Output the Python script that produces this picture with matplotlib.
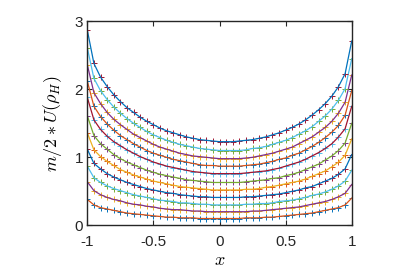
import numpy as np
import matplotlib
matplotlib.use("Agg")
import matplotlib.pyplot as plt

plt.rcParams['font.family'] = ['Liberation Sans', 'DejaVu Sans']
plt.rcParams['mathtext.fontset'] = 'cm'
plt.rcParams['axes.unicode_minus'] = False

# sample points (x) and the 11 curves, bottom to top
x = [-1.00, -0.95, -0.90, -0.85, -0.80, -0.75, -0.70, -0.65, -0.60, -0.55,
     -0.50, -0.45, -0.40, -0.35, -0.30, -0.25, -0.20, -0.15, -0.10, -0.05,
     0.00, 0.05, 0.10, 0.15, 0.20, 0.25, 0.30, 0.35, 0.40, 0.45,
     0.50, 0.55, 0.60, 0.65, 0.70, 0.75, 0.80, 0.85, 0.90, 0.95, 1.00]

u0 = [0.38, 0.30, 0.26, 0.24, 0.22, 0.20, 0.18, 0.17, 0.16, 0.15, 0.14, 0.13, 0.12, 0.12,
      0.11, 0.11, 0.11, 0.10, 0.10, 0.10, 0.10, 0.10, 0.10, 0.10, 0.11, 0.11, 0.11, 0.12,
      0.12, 0.13, 0.14, 0.15, 0.16, 0.17, 0.18, 0.20, 0.22, 0.24, 0.26, 0.30, 0.40]
u1 = [0.64, 0.51, 0.45, 0.41, 0.38, 0.36, 0.33, 0.31, 0.30, 0.28, 0.27, 0.25, 0.24, 0.23,
      0.23, 0.22, 0.21, 0.21, 0.20, 0.20, 0.20, 0.20, 0.20, 0.20, 0.20, 0.21, 0.21, 0.22,
      0.23, 0.24, 0.25, 0.26, 0.27, 0.29, 0.31, 0.33, 0.35, 0.38, 0.42, 0.47, 0.60]
u2 = [0.87, 0.70, 0.63, 0.58, 0.54, 0.51, 0.48, 0.45, 0.43, 0.41, 0.39, 0.37, 0.36, 0.35,
      0.33, 0.33, 0.32, 0.31, 0.31, 0.30, 0.30, 0.30, 0.30, 0.30, 0.31, 0.31, 0.32, 0.32,
      0.33, 0.35, 0.36, 0.37, 0.39, 0.41, 0.44, 0.46, 0.49, 0.53, 0.58, 0.65, 0.81]
u3 = [1.12, 0.91, 0.83, 0.76, 0.71, 0.67, 0.63, 0.60, 0.57, 0.54, 0.52, 0.50, 0.48, 0.47,
      0.45, 0.44, 0.43, 0.42, 0.42, 0.41, 0.41, 0.41, 0.41, 0.41, 0.42, 0.42, 0.43, 0.44,
      0.45, 0.46, 0.48, 0.50, 0.52, 0.55, 0.57, 0.61, 0.65, 0.69, 0.75, 0.83, 1.04]
u4 = [1.36, 1.11, 1.01, 0.94, 0.88, 0.82, 0.78, 0.74, 0.71, 0.68, 0.65, 0.63, 0.61, 0.59,
      0.57, 0.56, 0.55, 0.54, 0.53, 0.52, 0.52, 0.52, 0.52, 0.52, 0.53, 0.53, 0.54, 0.56,
      0.57, 0.59, 0.61, 0.63, 0.65, 0.68, 0.72, 0.76, 0.80, 0.86, 0.93, 1.03, 1.27]
u5 = [1.61, 1.32, 1.20, 1.12, 1.04, 0.98, 0.93, 0.89, 0.85, 0.81, 0.78, 0.75, 0.73, 0.71,
      0.69, 0.67, 0.66, 0.65, 0.64, 0.63, 0.63, 0.63, 0.63, 0.63, 0.64, 0.65, 0.66, 0.67,
      0.69, 0.70, 0.73, 0.75, 0.78, 0.82, 0.86, 0.90, 0.96, 1.02, 1.10, 1.21, 1.50]
u6 = [1.88, 1.55, 1.41, 1.31, 1.23, 1.17, 1.11, 1.06, 1.01, 0.97, 0.93, 0.90, 0.87, 0.85,
      0.83, 0.81, 0.79, 0.78, 0.77, 0.76, 0.76, 0.76, 0.76, 0.76, 0.77, 0.78, 0.79, 0.80,
      0.82, 0.84, 0.87, 0.90, 0.93, 0.97, 1.02, 1.07, 1.13, 1.20, 1.30, 1.42, 1.75]
u7 = [2.12, 1.75, 1.60, 1.49, 1.40, 1.32, 1.26, 1.20, 1.15, 1.10, 1.06, 1.03, 1.00, 0.97,
      0.95, 0.93, 0.91, 0.89, 0.88, 0.88, 0.87, 0.87, 0.87, 0.87, 0.88, 0.89, 0.90, 0.92,
      0.94, 0.97, 0.99, 1.03, 1.06, 1.11, 1.16, 1.22, 1.29, 1.37, 1.47, 1.62, 1.98]
u8 = [2.36, 1.95, 1.79, 1.66, 1.56, 1.48, 1.41, 1.34, 1.29, 1.24, 1.19, 1.15, 1.12, 1.09,
      1.06, 1.04, 1.02, 1.01, 1.00, 0.99, 0.98, 0.98, 0.98, 0.98, 0.99, 1.00, 1.02, 1.04,
      1.06, 1.09, 1.12, 1.15, 1.20, 1.25, 1.30, 1.37, 1.44, 1.53, 1.65, 1.81, 2.21]
u9 = [2.61, 2.16, 1.98, 1.85, 1.74, 1.65, 1.57, 1.50, 1.44, 1.38, 1.33, 1.29, 1.25, 1.22,
      1.19, 1.17, 1.15, 1.13, 1.12, 1.11, 1.10, 1.10, 1.10, 1.10, 1.11, 1.13, 1.14, 1.16,
      1.19, 1.22, 1.25, 1.29, 1.34, 1.39, 1.45, 1.53, 1.61, 1.71, 1.84, 2.01, 2.45]
u10 = [2.87, 2.38, 2.18, 2.04, 1.92, 1.82, 1.73, 1.66, 1.59, 1.53, 1.48, 1.43, 1.39, 1.36,
       1.33, 1.30, 1.28, 1.26, 1.25, 1.24, 1.23, 1.23, 1.23, 1.24, 1.25, 1.26, 1.28, 1.30,
       1.33, 1.36, 1.40, 1.44, 1.49, 1.55, 1.62, 1.70, 1.79, 1.90, 2.04, 2.23, 2.71]

curves = [u0, u1, u2, u3, u4, u5, u6, u7, u8, u9, u10]

xticks = [-1, -0.5, 0, 0.5, 1]
xticklabels = ['-1', '-0.5', '0', '0.5', '1']
yticks = [0, 1, 2, 3]
yticklabels = ['0', '1', '2', '3']

# matlab default colour order; markers and lines are separate plot calls
matlab_colors = [(0.000, 0.447, 0.741), (0.850, 0.325, 0.098), (0.929, 0.694, 0.125),
                 (0.494, 0.184, 0.556), (0.466, 0.674, 0.188), (0.301, 0.745, 0.933),
                 (0.635, 0.078, 0.184)]

fig = plt.figure(figsize=(4.15, 2.77), dpi=100)
ax = fig.add_axes([0.2104, 0.1866, 0.6371, 0.7364])

for k, u in enumerate(curves):
    assert len(u) == len(x)
    ax.plot(x, u, linestyle='none', marker='+', markersize=5, markeredgewidth=0.7,
            color=matlab_colors[(2 * k) % 7])
    ax.plot(x, u, '-', linewidth=0.9, color=matlab_colors[(2 * k + 1) % 7])

ax.set_xlim(-1, 1)
ax.set_ylim(0, 3)
ax.set_xticks(xticks)
ax.set_xticklabels(xticklabels)
ax.set_yticks(yticks)
ax.set_yticklabels(yticklabels)

axcol = (0.15, 0.15, 0.15)
for s in ax.spines.values():
    s.set_color(axcol)
    s.set_linewidth(1.0)
ax.tick_params(direction='in', top=True, right=True, length=3.5, width=0.8,
               colors=axcol, labelsize=11)
ax.tick_params(axis='x', pad=7)
ax.tick_params(axis='y', pad=3)

ax.set_xlabel(r'$x$', fontsize=13, labelpad=2)
ax.set_ylabel(r'$m/2 * U(\rho_H)$', fontsize=13, labelpad=8)

fig.savefig('out.png', dpi=100)
